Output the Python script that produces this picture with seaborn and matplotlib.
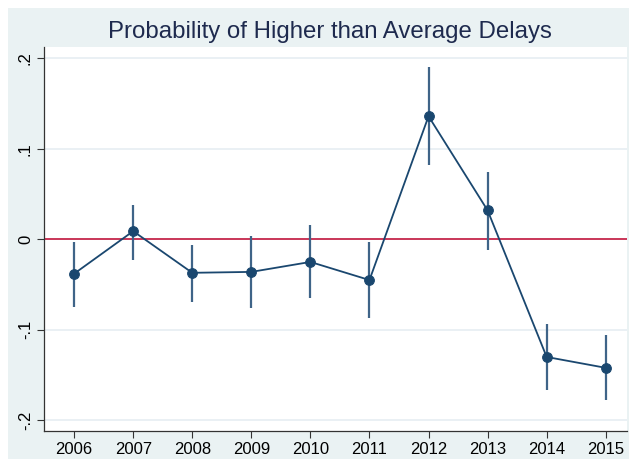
import matplotlib
matplotlib.use("Agg")
import matplotlib.pyplot as plt
import seaborn as sns
import pandas as pd
from matplotlib.patches import Rectangle

years = [2006, 2007, 2008, 2009, 2010, 2011, 2012, 2013, 2014, 2015]
estimate = [-0.038, 0.009, -0.037, -0.036, -0.025, -0.045, 0.136, 0.032, -0.130, -0.142]
ci_low = [-0.075, -0.023, -0.069, -0.076, -0.065, -0.087, 0.082, -0.012, -0.166, -0.178]
ci_high = [-0.003, 0.038, -0.006, 0.004, 0.016, -0.003, 0.190, 0.074, -0.094, -0.106]
yticks = [-0.2, -0.1, 0.0, 0.1, 0.2]
ytick_labels = ["-.2", "-.1", "0", ".1", ".2"]
title = "Probability of Higher than Average Delays"

df = pd.DataFrame({"year": years, "est": estimate, "lo": ci_low, "hi": ci_high})

sns.set_theme(style="white")
plt.rcParams["font.family"] = ["Liberation Sans", "DejaVu Sans"]

W, H = 629, 459
fig = plt.figure(figsize=(W / 100, H / 100), dpi=100, facecolor="white")
bg = Rectangle((8 / W, 0), 1 - 8 / W, 1 - 8 / H, transform=fig.transFigure,
               facecolor="#eaf2f3", edgecolor="none", zorder=-10)
fig.patches.append(bg)
ax = fig.add_axes([44 / W, 1 - 431 / H, (627 - 44) / W, (431 - 47) / H])
ax.set_zorder(1)
ax.set_facecolor("white")

navy = "#1a476f"
for g in [-0.2, -0.1, 0.1, 0.2]:
    ax.axhline(g, color="#e6eef2", lw=1.2, zorder=1)
ax.axhline(0, color="#c0143c", lw=1.2, zorder=2)

ax.vlines(df["year"], df["lo"], df["hi"], color="#3f6488", lw=1.6, zorder=3)
sns.lineplot(data=df, x="year", y="est", ax=ax, color=navy, lw=1.3, marker="o",
             markersize=7, markeredgecolor=navy, markerfacecolor=navy, zorder=4)

ax.set_xlim(2005.49, 2015.36)
ax.set_ylim(-0.2118, 0.2125)
ax.set_xticks(years)
ax.set_xticklabels([str(y) for y in years], fontsize=12, color="black")
ax.set_yticks(yticks)
ax.set_yticklabels(ytick_labels, fontsize=12, color="black", rotation=90, va="center")
ax.tick_params(axis="both", direction="out", length=5, width=0.8, color="#333333",
               bottom=True, left=True, pad=3)
ax.set_xlabel("")
ax.set_ylabel("")
for s in ["top", "right"]:
    ax.spines[s].set_visible(False)
for s in ["left", "bottom"]:
    ax.spines[s].set_color("#333333")
    ax.spines[s].set_linewidth(0.9)

fig.text(330 / W, 1 - 32 / H, title, ha="center", va="center", fontsize=17.3, color="#1e2a4e")

fig.savefig("out.png", dpi=100, facecolor=fig.get_facecolor())
